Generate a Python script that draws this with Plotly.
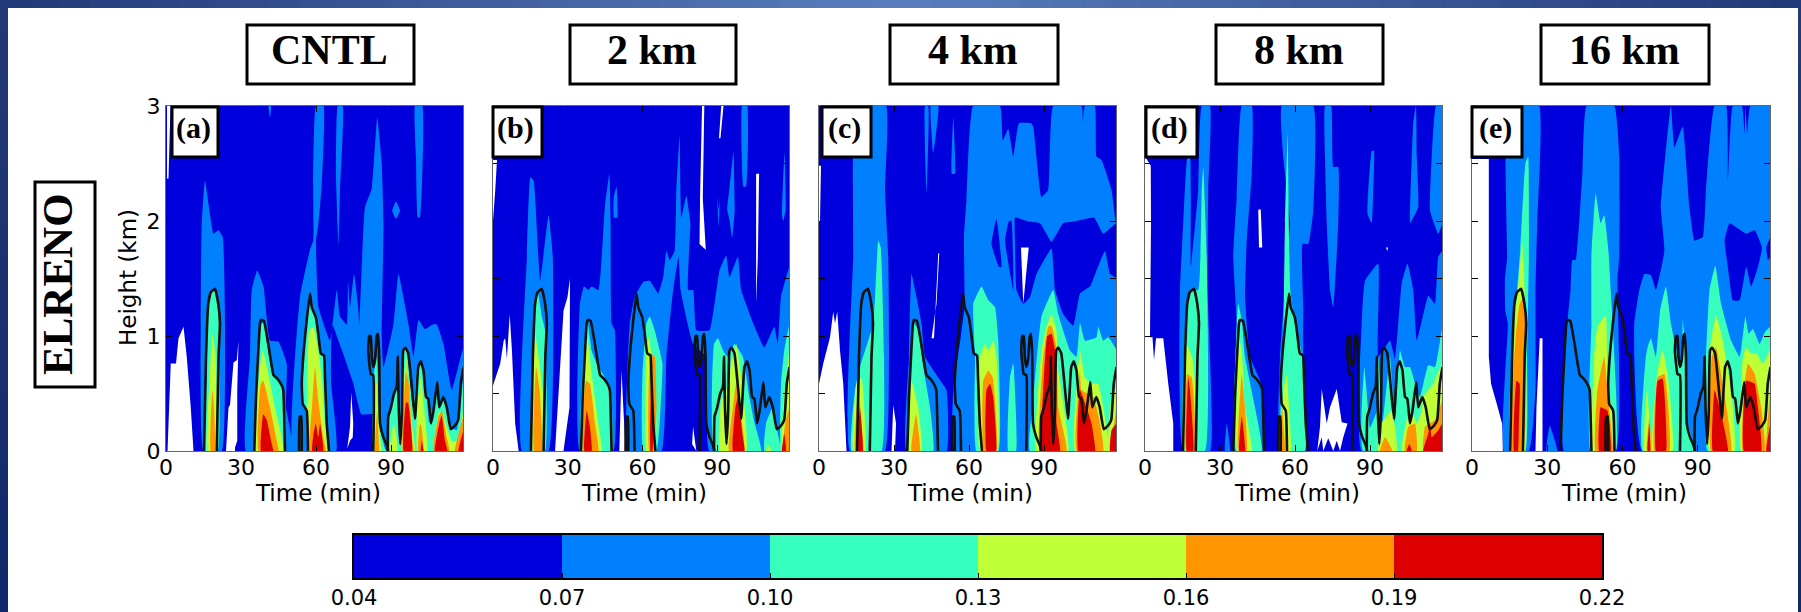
import plotly.graph_objects as go

W, H = 1801, 612
PANELS = ["a", "b", "c", "d", "e"]
TITLES = ["CNTL", "2 km", "4 km", "8 km", "16 km"]
ROW_LABEL = "ELRENO"
LEVELS = [0.04, 0.07, 0.10, 0.13, 0.16, 0.19, 0.22]
COLORS = ["#0000DC", "#0080FF", "#36FFBE", "#BEFF36", "#FF9500", "#DC0000"]
X_TICKS = [0, 30, 60, 90]

# Black contour, the same in all panels: (time min, height km)
CNTL_CONTOUR = [
    [(15.2,0),(16,.82),(16.9,1.28),(17.9,1.38),(19.6,1.41),(20.9,1.28),(21.6,1.11),(21,.82),(20.3,0)],
    [(35.3,0),(36,.47),(37.6,1.11),(38,1.14),(39.2,1.13),(40.9,.93),(43,.66),(44.5,.63),(46.3,.57),(46.9,.53),(47.6,0)],
    [(53.2,0),(53.5,.3),(54.1,.3),(54.3,0)],
    [(56.8,0),(56.3,.35),(54.7,.41),(54.3,.585),(55.2,.9),(56.3,1.14),(57.6,1.37),(58.3,1.25),(59.9,1.165),(60.9,1.02),(61.9,.85),(63.2,.83),(63.6,.64),(64.3,.24),(65.2,0)],
    [(82.9,0),(82.9,.66),(81.9,.67),(80.9,.875),(81.3,1.0),(81.9,1.0),(82.3,.82),(82.9,.73),(83.6,.79),(84.3,1.0),(84.8,1.02),(85.3,.82),(85.6,.24),(86.9,.12),(88.3,.05),(88.9,0)],
    [(88.7,0),(88.9,.3),(89.9,.37),(91.2,.5),(92.3,.56),(92.7,.82),(93.1,.38),(93.7,.06),(94.4,.35),(94.9,.875),(95.7,.9),(96.9,.85),(98.3,.56),(99.6,.28),(100.9,.73),(101.9,.78),(103,.7),(104,.47),(104.9,.455),(106,.24),(107,.35),(108.5,.6),(109.3,.38),(110.9,.47),(112.3,.38),(113.9,.19),(115.6,.22),(116.9,.27),(117.9,.585),(119,.73)],
]

# Panel (a)
A_WHITE = [
    [(.6,0),(1.2,.4),(1.9,.76),(4,.76),(5,.98),(7,1.08),(8.3,.82),(9.9,.38),(11,0)],
    [(.4,3),(1.8,3),(1,2.37),(.4,2.37)],
    [(24,0),(25,.38),(25.6,.4),(27,.77),(28.3,.79),(29,.96),(28.5,.53),(28.5,.09),(27.6,.03),(27.6,0)],
    [(72.5,.02),(73.6,.21),(74.1,.51),(74.9,.24),(74.7,.12),(73.6,.09)],
]
A_LIGHT = [
    [(15,0),(13.9,1.1),(14.3,1.98),(15.6,2.35),(19,1.89),(21,1.92),(22.7,1.86),(23.6,1.1),(22.3,0)],
    [(32,0),(33.6,.82),(34.3,1.4),(36.5,1.57),(39,1.43),(41.6,.96),(45,.95),(48.3,.76),(48,.38),(50.7,0)],
    [(50.9,0),(53.6,1.34),(57.6,1.75),(58.9,1.83),(58.9,2.32),(60,3),(63,3),(62.3,2.32),(61,1.98),(60,1.83),(61,1.25),(65.6,.96),(68.3,1.4),(69.6,1.17),(72.3,1.1),(72.8,1.48),(73.6,1.25),(75.2,1.54),(76.9,1.25),(77.3,1.1),(79.6,2.12),(82.3,2.28),(84.5,2.9),(86.3,2.5),(87,1.98),(86.3,1),(87,.73),(91,1.1),(93,1.54),(97,1.1),(99,.82),(101,1.14),(103.6,1.06),(106.7,1.1),(108.3,1.1),(111,.93),(114.3,.53),(119,.9),(119,0),(85.6,0),(83.6,.32),(78.2,.32),(74.9,.59),(70,.9),(66.5,1.1),(66,.6),(68,0)],
    [(41,3),(42,3),(41.6,2.9)],
    [(68.7,3),(70.7,3),(69.6,2.27),(69,1.8),(68,2.41)],
    [(99.6,3),(102.5,3),(101.6,2.03),(100.7,2.03),(100,2.56)],
    [(92,2.17),(93.6,2.09),(92,2.02),(90.5,2.09)],
]
A_CYAN = [
    [(15.6,0),(16.3,.67),(16.9,1.25),(18,1.38),(19.6,1.4),(20.9,1.28),(21.3,.82),(20.7,0)],
    [(35.6,0),(36.3,.53),(37.9,1.1),(39.2,1.12),(40.5,.93),(42.7,.66),(44.9,.63),(46.9,.53),(47.6,0)],
    [(56.8,0),(56.3,.35),(54.9,.41),(54.7,.585),(55.3,.875),(56.3,1.14),(57.6,1.32),(58.9,1.21),(60.3,1.14),(61.2,1.02),(62,.85),(63.2,.83),(63.6,.64),(64.3,.24),(65,0)],
    [(83,0),(83.2,.67),(84.3,.82),(84.7,.67),(85.3,.24),(87.6,.02),(88.3,0)],
    [(89,0),(89.6,.35),(91,.47),(92.3,.56),(93,.38),(93,.06),(93.9,.38),(94.9,.875),(96.3,.89),(97.3,.67),(99,.35),(100.3,.7),(101.6,.77),(103.2,.64),(104.3,.47),(105.3,.24),(107,.38),(108.3,.585),(109.6,.4),(110.9,.47),(112.3,.38),(113.6,.21),(116.3,.18),(117.6,.35),(119,.64),(119,0)],
]
A_YELLOW = [
    [(16.5,0),(17.6,.67),(18.5,1.02),(19.6,.875),(20.3,.53),(20,0)],
    [(36.3,0),(37.3,.67),(38.7,.875),(40.9,.67),(43.6,.38),(46.3,.12),(46.9,0)],
    [(56.9,0),(56.5,.53),(57.3,1.05),(59,1.08),(60.9,.875),(62.3,.64),(63.6,.24),(64.7,0)],
    [(83.3,0),(83.6,.53),(84.3,.61),(84.8,.38),(85.9,.06),(86.3,0)],
    [(89.6,0),(91,.24),(92,.15),(92.5,0)],
    [(94.6,0),(95.4,.67),(96,.82),(97,.585),(98.3,.25),(99.5,0)],
    [(100.5,0),(100.5,.38),(101.9,.64),(103.2,.38),(104.5,0)],
    [(107,0),(107,.06),(109.3,.35),(110.9,.32),(112.3,.21),(114.3,.09),(117,.09),(119,.38),(119,0)],
]
A_ORANGE = [
    [(17.9,0),(18.3,.47),(18.7,.53),(19.2,.38),(19.5,0)],
    [(37,0),(37.9,.585),(38.9,.61),(41.6,.38),(44,.12),(45,0)],
    [(57.6,0),(58.4,.38),(59.6,.73),(60.9,.44),(62.9,.12),(63.9,0)],
    [(83.7,0),(84.5,.35),(85.2,.06),(85.3,0)],
    [(94.8,0),(96,.7),(97,.6),(98.5,.1),(99,0)],
    [(100.9,0),(101.6,.24),(102.2,.21),(103,0)],
    [(107,0),(109,.3),(110.3,.35),(112.3,.12),(113.3,0)],
    [(115.6,0),(119,.3),(119,0)],
]
A_RED = [
    [(38,0),(38.9,.32),(40.3,.27),(42.3,.06),(42.9,0)],
    [(58.5,0),(59,.15),(59.9,.24),(60.9,.12),(61.6,.24),(62.9,0)],
    [(95,0),(96,.42),(96.8,.42),(98.4,0)],
    [(101.9,0),(102.3,.09),(103,0)],
    [(107.6,0),(109.3,.24),(110.3,.31),(111.6,.09),(112.5,0)],
    [(117,0),(119,.18),(119,0)],
]

# Panel (b)
B_WHITE = [
    [(0,.57),(2.9,.76),(4.3,.96),(4.9,.98),(5.6,.8),(6.7,1.19),(7.6,.875),(8.9,.24),(10.3,0),(0,0)],
    [(0,2.53),(1.6,2.53),(.9,2.27),(.3,2),(0,2)],
    [(24.9,0),(26.3,.53),(28.3,1.22),(29.9,1.34),(30.9,1.5),(30.7,.38),(28.3,0)],
    [(50.7,0),(51.6,.7),(52.3,.38),(53.2,0)],
    [(83.9,3),(84.8,3),(84.2,2.2),(85.4,1.75),(82.9,1.8),(83.1,2.2)],
    [(91.6,3),(92.5,3),(91.3,2.72),(90.7,2.72)],
    [(105.6,2.41),(106.8,2.41),(106.3,1.69),(105.6,1.28)],
    [(80.3,.21),(81.6,0),(79.9,.06)],
]
B_LIGHT = [
    [(11.6,0),(13.6,1.69),(15,2.38),(16.3,2.35),(18.9,1.48),(22.3,2.05),(24,1.69),(22.3,0)],
    [(34.9,0),(34.9,1.28),(36.5,1.43),(38.3,1.4),(39.6,1.43),(42.3,1.4),(44.9,2.12),(46.7,2.41),(47.2,1.98),(47.6,1.11),(48.9,1.05),(49.3,.67),(48.3,0)],
    [(48.5,2.21),(49.6,2.3),(49.9,2.03),(48.5,2.03)],
    [(54.3,0),(54.9,1.11),(56.9,1.34),(60.3,1.47),(62.9,1.48),(66.3,1.37),(68.3,1.51),(69.6,1.74),(70.9,1.66),(72.9,1.74),(73.6,2.27),(74.9,2.74),(75.6,2.03),(77.6,2.22),(79.2,1.98),(78.3,1.4),(80.3,1.4),(81.6,1.05),(86.9,1.05),(90.9,1.57),(93.6,1.7),(94.9,1.51),(98.3,1.69),(99.6,1.4),(105,1.08),(108.9,.9),(112.9,1.08),(114.3,.93),(115.6,1.34),(119,1.6),(119,0),(86.9,0),(85.6,.82),(80.3,.93),(75.3,1.4),(74.5,1.69),(72.3,1.4),(69.6,.82),(67.6,0)],
    [(100,3),(102,3),(101.6,2.3),(100.5,2.3)],
    [(90,2.2),(90.6,2.1),(91,2.2),(90.6,1.95)],
    [(94,2.1),(95,2.3),(96.5,2.6),(97,2.1),(96,1.85),(95,2)],
    [(116,2.05),(117,2.6),(117.5,2.1),(116.5,2.0)],
]
B_CYAN = [
    [(15.6,0),(16.3,.82),(16.9,1.25),(18,1.38),(19.6,1.17),(20.9,1.05),(20.9,0)],
    [(35.6,0),(36.3,.82),(37.9,1.14),(39.6,.875),(41.6,.76),(44.9,.64),(47.2,.53),(47.6,0)],
    [(60.3,0),(60,.67),(61.6,1.11),(62.9,1.17),(64.9,1.05),(68,.76),(66.9,.24),(65.6,0)],
    [(88.9,0),(88.7,.93),(90.3,.98),(92.3,.875),(94.3,.82),(96.9,.93),(100.3,.82),(102.9,.47),(105,.24),(107.6,0)],
    [(108.9,0),(109.6,.24),(112.3,.38),(114.3,.15),(115.6,0)],
    [(115.6,0),(115.6,.585),(116.9,.875),(119,1.1),(119,0)],
]
B_YELLOW = [
    [(16,0),(16.9,1.02),(18.3,.82),(20,.53),(20.3,0)],
    [(35.9,0),(36.9,.67),(37.9,.99),(39.6,.67),(42.3,.24),(43.6,0)],
    [(61.6,0),(61.6,.875),(62.5,.99),(64.9,.64),(65.6,.24),(64.9,0)],
    [(91,0),(91.6,.44),(93.6,.53),(95.6,.76),(97.6,.93),(100.3,.53),(101.6,0)],
    [(109.6,0),(110.3,.06),(111.6,0)],
    [(116,0),(116.5,.38),(119,.875),(119,0)],
]
B_ORANGE = [
    [(16.5,0),(17.3,.73),(18.7,.53),(19.6,0)],
    [(36.3,0),(37.3,.61),(38.9,.585),(40.9,.24),(42.3,0)],
    [(62.7,0),(63.2,.85),(64.9,.82),(65.6,.38),(64.5,0)],
    [(94.7,0),(96.3,.38),(97.6,.585),(99.6,.3),(100.9,0)],
    [(116.3,0),(117.3,.24),(119,.38),(119,0)],
]
B_RED = [
    [(36.7,0),(37.6,.35),(38.9,.21),(39.6,0)],
    [(63.2,0),(63.6,.67),(64.3,.24),(64,0)],
    [(96.3,0),(97.3,.38),(98.3,.47),(100.3,.12),(100.9,0)],
    [(116,0),(116.9,.15),(117.6,0)],
]

# Panel (c)
C_WHITE = [
    [(0,.585),(1.7,.76),(4.4,.99),(5.7,1.21),(6.4,1.11),(7.3,1.21),(8.4,.875),(9.7,.585),(11,0),(0,0)],
    [(0,2.48),(.8,2.48),(.4,2.0),(0,2.0)],
    [(29,0),(29.7,.4),(30.8,.24),(30.4,0)],
    [(45,.98),(46,.98),(47.7,1.72),(48.1,1.72),(47,1.28)],
    [(80.8,1.77),(83.9,1.77),(81.7,1.28)],
]
C_LIGHT = [
    [(12.4,0),(13.7,1.69),(15,3),(26.8,3),(26.4,2.27),(27.7,1.69),(28,.82),(26.4,0)],
    [(35,0),(36,.82),(37,1.54),(39,1.34),(41,1.11),(42.4,.82),(47.7,.64),(51,.53),(51,0)],
    [(42.4,3),(43,2.24),(43.7,3)],
    [(44.7,3),(45.7,2.59),(47.7,3)],
    [(53.7,2.9),(53.1,2.41),(54.4,2.41)],
    [(54.4,0),(53.7,.53),(56.7,.99),(58.2,1.25),(58,1.86),(59,2.18),(61.7,3),(72.4,3),(73.5,2.7),(75.7,2.8),(77.7,2.56),(80,2.85),(84.8,2.85),(85.7,2.82),(89,2.21),(91.7,2.27),(93.7,3),(105,3),(103.8,2.12),(106.4,3),(110.3,3),(111,2.56),(113,2.53),(117,2.27),(118.8,1.98),(119,1.98),(119,0)],
]
C_DARK = [
    [(69,1.8),(71,2.02),(73,1.6),(72,1.6)],
    [(74.4,1.83),(76,2),(77,2),(77.7,1.4),(76,1.6)],
    [(78.4,2.03),(83,2),(88.4,1.98),(93,1.82),(97.7,1.98),(103,2),(110,2.03),(113.7,1.89),(119,1.98),(119,1.51),(116.4,1.54),(114.4,1.74),(111,1.57),(108.4,1.43),(104.4,1.37),(101.7,1.09),(97.7,1.19),(94.4,1.4),(93,1.76),(87,1.54),(84.4,1.34),(81.7,1.28),(79,1.4),(78.4,1.83)],
]
C_CYAN = [
    [(13,0),(14.4,.53),(16.4,.73),(21.7,1.11),(23.7,1.83),(24.7,1.77),(26,.82),(25,0)],
    [(35.7,0),(36.4,.73),(38,1.11),(39.7,1.05),(41.7,.73),(44.4,.38),(45.7,0)],
    [(63,0),(62.4,.82),(61.7,1.28),(65,1.43),(67.7,1.31),(70.4,1.25),(71.7,.96),(71.7,0)],
    [(75.7,0),(76.4,.64),(77.7,.76),(78.8,0)],
    [(84.4,0),(85.7,.44),(89,1.17),(93.7,1.4),(95.7,1.19),(100.4,.875),(103,.82),(104.4,1.11),(106.4,.96),(111,.99),(111.7,1.08),(113.7,.96),(115.7,.99),(119,.875),(119,0)],
]
C_YELLOW = [
    [(13.7,0),(15,.585),(17,.64),(18.4,0)],
    [(36,0),(37,.61),(39.7,.38),(41,0)],
    [(64.4,0),(64.4,.82),(66.4,.93),(67.7,.875),(69.7,.96),(71,.82),(71.7,.53),(71.4,0)],
    [(87,0),(89,.875),(91,1.08),(93,1.19),(95,1.05),(95.7,.7),(99.7,0)],
    [(102.4,0),(104.4,.875),(106.4,.64),(109,.585),(111.7,.585),(113.7,.38),(115.7,0)],
    [(115.7,0),(117,.47),(119,.56),(119,0)],
]
C_ORANGE = [
    [(14.4,0),(15.7,.53),(17,.21),(17.7,0)],
    [(37,0),(38.8,.32),(40.4,0)],
    [(66,0),(65.7,.61),(67.7,.7),(69.5,.64),(71,0)],
    [(88.4,0),(89.7,.82),(91.7,1.08),(93,1.09),(95,.9),(95.7,.38),(99,0)],
    [(103,0),(104.4,.7),(105,.53),(109.7,.47),(112.4,.24),(113.7,0)],
    [(117,0),(119,.38),(119,0)],
]
C_RED = [
    [(15.5,0),(16.4,.38),(17.5,0)],
    [(67,0),(67,.53),(68.4,.585),(69.7,.47),(70.8,0)],
    [(89,0),(89.7,.53),(91.3,1.0),(93,1.02),(94.8,.82),(95,.24),(96.4,0)],
    [(103.7,0),(104.4,.53),(107,.38),(109,.24),(110.4,0)],
    [(116.4,0),(117,.18),(119,.24),(119,0)],
]

# Panel (d)
D_WHITE = [
    [(0,2.56),(2.3,2.48),(2.4,1.98),(2,.99),(3,.99),(3.6,.79),(4.4,.98),(7.3,.98),(9.3,.585),(11.3,.24),(11.3,0),(0,0)],
    [(45.3,2.1),(46.3,2.1),(46.9,1.77),(45.6,1.77)],
    [(68.9,0),(70,.21),(70.7,.54),(72.7,.24),(74,.38),(76.7,.54),(78.7,.25),(81,.24),(79.3,.12),(78,0),(76.7,.09),(75.3,0),(73.3,.11),(71.3,0),(70.7,.12)],
    [(96.4,1.77),(97.2,1.77),(96.9,1.74)],
]
D_LIGHT = [
    [(15.3,0),(14,1.4),(15.3,1.98),(17,2.56),(18,2.56),(18.3,1.6),(21.3,2.27),(22.7,3),(26,3),(25.3,2.27),(25,1.4),(26,0)],
    [(32,0),(32.7,.24),(34,0)],
    [(36,0),(36.7,1.11),(35.3,1.69),(36.7,2.21),(38.7,3),(42.7,3),(42.7,2.41),(40.7,1.83),(40,1.34),(42,.82),(46,.61),(47.6,0)],
    [(54,0),(54,.82),(56,1.4),(58,1.98),(55.3,2.56),(54.7,3),(67.3,3),(67.3,2.09),(65.3,1.8),(63,1.8),(63.3,1.25),(63.3,.875),(64,0)],
    [(72,3),(74.4,3),(75.3,2.47),(77.3,2.47),(77.3,1.98),(75.3,1.25),(74,1.4),(72.7,1.98),(72,2.56)],
    [(90.7,2.61),(91.6,2.61),(91.3,2.27),(90.7,1.98),(89,2.06)],
    [(106,2.06),(107.3,2.85),(108.4,3),(108.7,2.56),(109.3,2.12),(106,1.98)],
    [(116.4,3),(119,3),(119,1.98),(117.3,1.89),(114,2.09),(114.7,2.56)],
    [(86.7,0),(86.7,1.11),(88,1.48),(93.3,1.63),(93.3,.82),(98,.96),(100,.8),(102.7,1.46),(105,1.63),(107.3,1.4),(108.7,.96),(112,1.25),(113.3,1.35),(116,1.28),(117.3,1.69),(119,1.74),(119,0)],
]
D_CYAN = [
    [(15.7,0),(16.7,1.28),(18.7,1.4),(21.3,1.4),(22.7,2.27),(23.3,2.47),(24.7,1.69),(24,0)],
    [(36.4,0),(36.7,1.11),(37.3,1.28),(38.7,1.14),(40,.82),(44,.38),(46.7,0)],
    [(54.7,0),(55.3,.96),(56,1.98),(57.1,2.76),(58.1,1.4),(60,1.11),(62.7,.85),(64,0)],
    [(87.3,0),(87.7,.73),(88.4,.585),(90,.2),(92.7,.35),(93.3,.82),(95,.24),(98,.82),(100,.24),(102,.875),(104,.73),(106,.73),(108,.585),(110,.47),(113.3,.745),(116,.73),(119,1.08),(119,0)],
]
D_YELLOW = [
    [(16,0),(16.7,.93),(19,.8),(20.3,.53),(20,0)],
    [(36.9,0),(37.7,.96),(38.7,.875),(40,.38),(42.7,0)],
    [(55,0),(55.3,.53),(56.7,.67),(57.7,.35),(58.3,0)],
    [(93.3,0),(94.7,.24),(98.7,.35),(100.7,0)],
    [(102.7,0),(104.7,.27),(106.7,.35),(108.7,.24),(110.7,.35),(111.3,.47),(115.3,.585),(119,.76),(119,0)],
]
D_ORANGE = [
    [(16.4,0),(16.9,.67),(18.7,.64),(20,0)],
    [(37.3,0),(38.7,.67),(40.7,0)],
    [(54,0),(55,.38),(55.3,.24),(56,0)],
    [(94,0),(96,.12),(99,0)],
    [(104,0),(105.3,.21),(108,.24),(108.7,0)],
    [(111.3,0),(112,.21),(116,.27),(119,.44),(119,0)],
]
D_RED = [
    [(16.7,0),(17.3,.64),(18,.53),(19.3,0)],
    [(37.7,0),(38.7,.3),(40,0)],
    [(104.7,0),(105.7,.06),(106.7,0)],
    [(111.3,0),(113.3,.15),(114,.24),(114.7,.12),(117.3,.18),(119,.24),(119,0)],
]

# Panel (e)
E_WHITE = [
    [(0,2.54),(6.7,2.54),(6.7,.82),(7.6,.585),(10,.4),(12,.24),(12.3,0),(0,0)],
    [(25.3,0),(25.7,.38),(27,.98),(28.1,.98),(28.1,0)],
]
E_LIGHT = [
    [(12.7,0),(14.3,1.11),(13.3,1.22),(13.1,1.48),(14,1.69),(14.4,3),(26.7,3),(26,1.98),(25.3,1.4),(25.3,.53),(22.7,0)],
    [(29.7,0),(31,.22),(34,0)],
    [(36.7,0),(36.7,.82),(39.3,1.4),(40,1.66),(41.3,1.66),(44,2.41),(45.7,3),(56.7,3),(58.7,2.56),(58.7,1.69),(58,1.51),(57.3,0)],
    [(68,0),(64.7,.82),(64.7,1.11),(66.7,1.4),(68.7,1.54),(71.3,1.53),(73.3,1.4),(76.7,1.74),(75.3,2.12),(79.3,3),(80.7,2.64),(84,2.82),(86.7,2.12),(88.7,1.83),(92,1.86),(93.3,2.27),(96.7,3),(101.3,3),(102,2.32),(104,3),(107.6,3),(108.7,2.76),(109,3),(109.7,2.76),(111,3),(119,3),(119,0)],
]
E_DARK = [
    [(100.7,1.83),(102.7,1.98),(109.3,1.89),(112.7,1.92),(115.6,1.77),(114,1.6),(111.3,1.43),(109.3,1.6),(106.7,1.31),(104,1.31),(102,1.6)],
    [(117.3,1.77),(119,1.86),(119,1.69),(118,1.66)],
]
E_CYAN = [
    [(15.3,0),(16.7,1.17),(18,1.4),(19.3,1.77),(21.3,2.5),(22.4,2.56),(22.7,1.69),(22,.82),(21.3,0)],
    [(47.3,0),(47.6,1.11),(47.6,1.69),(49.3,2.24),(51.3,1.98),(52.7,2.05),(54.4,1.74),(55.3,1.4),(57.3,0)],
    [(68,0),(69.3,.82),(70,.9),(71.3,.98),(73.3,.82),(75,1.22),(77.3,1.43),(79.3,1.11),(82,.82),(83.6,.73),(84,1.14),(85,.93),(85.3,.67),(86,.24),(88.7,0)],
    [(94,0),(93.3,.82),(94.7,1.4),(97,1.61),(99.3,1.28),(103.3,.96),(106.7,.82),(109,1.17),(110.3,1.02),(112,1.06),(114.7,.93),(116.7,1.03),(119,1.08),(119,0)],
]
E_YELLOW = [
    [(15.7,0),(17,1.17),(18.3,1.4),(20,1.8),(21,1.4),(21.6,.82),(21,0)],
    [(48.3,0),(48.7,.82),(50,1.08),(53.3,1.18),(54,.67),(56.7,0)],
    [(68.7,0),(69.7,.53),(71.3,0)],
    [(72,0),(74,.7),(76,.875),(78,.67),(80,0)],
    [(94.7,0),(94.7,.875),(97.3,1.18),(100,.96),(103.3,.53),(104.7,0)],
    [(107.3,0),(108,.82),(109.3,.9),(111.3,.85),(113.3,.85),(116,.76),(118.7,.875),(119,.875),(119,0)],
]
E_ORANGE = [
    [(16,0),(17.3,.96),(19,1.28),(20.7,1.34),(21.3,.24),(20.4,0)],
    [(49.3,0),(50,.53),(52.7,.82),(54,.53),(55.3,.24),(56,0)],
    [(69.7,0),(70.7,.3),(71.3,0)],
    [(72.7,0),(74,.64),(76.7,.67),(78.7,0)],
    [(95.3,0),(95.6,.82),(97.3,.9),(99.3,.67),(103.3,0)],
    [(108,0),(108.7,.585),(110,.76),(112.7,.67),(115.3,.38),(116.7,0)],
    [(117.3,0),(119,.53),(119,0)],
]
E_RED = [
    [(16.7,0),(17.7,.61),(19,.585),(18.7,.24),(18.3,0)],
    [(50.7,0),(51.3,.38),(54,.35),(55.3,0)],
    [(70,0),(70.7,.24),(71,0)],
    [(73.3,0),(74,.61),(76,.63),(77.3,0)],
    [(96,0),(96.7,.53),(98.7,.38),(102,0)],
    [(108.4,0),(109.3,.61),(112.7,.585),(114,.38),(115.3,0)],
    [(117.3,0),(119,.24),(119,0)],
]

LAYERS = {
    "a": [A_LIGHT, A_CYAN, A_YELLOW, A_ORANGE, A_RED, A_WHITE],
    "b": [B_LIGHT, B_CYAN, B_YELLOW, B_ORANGE, B_RED, B_WHITE],
    "c": [C_LIGHT, C_DARK, C_CYAN, C_YELLOW, C_ORANGE, C_RED, C_WHITE],
    "d": [D_LIGHT, D_CYAN, D_YELLOW, D_ORANGE, D_RED, D_WHITE],
    "e": [E_LIGHT, E_DARK, E_CYAN, E_YELLOW, E_ORANGE, E_RED, E_WHITE],
}


def px(x):
    return x / W


def py(y):
    return 1 - y / H


def layer_colors(panel):
    cols = [COLORS[1]]
    if panel in ("c", "e"):
        cols.append(COLORS[0])
    return cols + COLORS[2:] + ["#FFFFFF"]


def poly_xy(polys):
    xs, ys = [], []
    for poly in polys:
        xs += [p[0] for p in poly] + [poly[0][0], None]
        ys += [p[1] for p in poly] + [poly[0][1], None]
    return xs, ys


def line_xy(lines):
    xs, ys = [], []
    for line in lines:
        xs += [p[0] for p in line] + [None]
        ys += [p[1] for p in line] + [None]
    return xs, ys


PANEL_X = [(166, 463), (493, 789), (819, 1116), (1145, 1442), (1472, 1770)]
PANEL_Y = (106, 451)
LABEL_BOX = [(172, 218), (493, 542), (822, 871), (1146, 1197), (1472, 1522)]
TITLE_BOX = [(247, 414), (570, 736), (890, 1058), (1216, 1383), (1541, 1709)]
CBAR_X = (354, 1602)
CBAR_Y = (535, 578)

fig = go.Figure()
shapes, annotations = [], []

# slide frame: navy edges; the top bar is lightest in the middle
N = 60
for i in range(N):
    f = 1 - abs(2 * (i + .5) / N - 1)
    c = (int(35 + f * 55), int(57 + f * 70), int(120 + f * 70))
    x0, x1 = round(W * i / N), round(W * (i + 1) / N) + 1
    shapes.append(dict(type="rect", xref="paper", yref="paper", layer="below",
                       x0=px(x0), x1=px(min(x1, W)), y0=py(8), y1=py(0),
                       line_width=0, fillcolor=f"rgb{c}"))
for i in range(30):
    f = i / 29
    c = (int(36 - f * 20), int(58 - f * 17), int(120 - f * 14))
    y0, y1 = round(8 + (H - 8) * i / 30), round(8 + (H - 8) * (i + 1) / 30) + 1
    for a, b in ((0, 8), (1798, W)):
        shapes.append(dict(type="rect", xref="paper", yref="paper", layer="below",
                           x0=px(a), x1=px(b), y0=py(min(y1, H)), y1=py(y0),
                           line_width=0, fillcolor=f"rgb{c}"))

axis_common = dict(showgrid=False, zeroline=False, automargin=False, ticks="inside", ticklen=6, tickwidth=1.2,
                   tickcolor="#000000", linecolor="#666666", linewidth=1.2, mirror="ticks",
                   tickfont=dict(family="DejaVu Sans", size=22, color="#000000"))
layout_axes = {}
for i, panel in enumerate(PANELS):
    n = i + 1
    xa, ya = f"x{n}", f"y{n}"
    layout_axes[f"xaxis{n}"] = dict(axis_common, domain=[px(PANEL_X[i][0]), px(PANEL_X[i][1])],
                                    range=[0, 118.8], tickvals=X_TICKS, anchor=ya, ticklabelstandoff=-4)
    layout_axes[f"yaxis{n}"] = dict(axis_common, domain=[py(PANEL_Y[1]), py(PANEL_Y[0])],
                                    range=[0, 3], anchor=xa,
                                    tickvals=[0, 1, 2, 3] if i == 0 else [0, .5, 1, 1.5, 2, 2.5, 3],
                                    showticklabels=i == 0)
    for polys, col in zip(LAYERS[panel], layer_colors(panel)):
        xs, ys = poly_xy(polys)
        line = dict(width=0, color=col)
        if col != "#FFFFFF":
            line.update(shape="spline", smoothing=.35)
        fig.add_trace(go.Scatter(x=xs, y=ys, mode="lines", fill="toself", fillcolor=col, line=line,
                                 xaxis=xa, yaxis=ya, hoverinfo="skip", showlegend=False))
    xs, ys = line_xy(CNTL_CONTOUR)
    fig.add_trace(go.Scatter(x=xs, y=ys, mode="lines",
                             line=dict(color="#111111", width=2.6, shape="spline", smoothing=.35),
                             xaxis=xa, yaxis=ya, hoverinfo="skip", showlegend=False))
    # x axis title
    annotations.append(dict(xref="paper", yref="paper", x=px((PANEL_X[i][0] + PANEL_X[i][1]) / 2 + 3),
                            y=py(493), showarrow=False, text="Time (min)", xanchor="center", yanchor="middle",
                            font=dict(family="DejaVu Sans", size=23, color="#000000")))
    # panel letter box
    x0, x1 = LABEL_BOX[i]
    shapes.append(dict(type="rect", xref="paper", yref="paper", x0=px(x0), x1=px(x1),
                       y0=py(157), y1=py(107), fillcolor="#FFFFFF", layer="above",
                       line=dict(color="#000000", width=3)))
    annotations.append(dict(xref="paper", yref="paper", x=px((x0 + x1) / 2 - 2), y=py(128), showarrow=False,
                            text=f"<b>({panel})</b>", xanchor="center", yanchor="middle",
                            font=dict(family="Liberation Serif", size=30, color="#000000")))
    # column title box
    x0, x1 = TITLE_BOX[i]
    shapes.append(dict(type="rect", xref="paper", yref="paper", x0=px(x0), x1=px(x1),
                       y0=py(84), y1=py(25), fillcolor="#FFFFFF", layer="above",
                       line=dict(color="#000000", width=3)))
    annotations.append(dict(xref="paper", yref="paper", x=px((x0 + x1) / 2 - 1), y=py(50), showarrow=False,
                            text=f"<b>{TITLES[i]}</b>", xanchor="center", yanchor="middle",
                            font=dict(family="Liberation Serif", size=42, color="#000000")))

# row label
shapes.append(dict(type="rect", xref="paper", yref="paper", x0=px(35), x1=px(95), y0=py(387), y1=py(182),
                   fillcolor="#FFFFFF", layer="above", line=dict(color="#000000", width=3)))
annotations.append(dict(xref="paper", yref="paper", x=px(57), y=py(284), showarrow=False, textangle=-90,
                        text=f"<b>{ROW_LABEL}</b>", xanchor="center", yanchor="middle",
                        font=dict(family="Liberation Serif", size=43, color="#000000")))
annotations.append(dict(xref="paper", yref="paper", x=px(128), y=py(278), showarrow=False, textangle=-90,
                        text="Height (km)", xanchor="center", yanchor="middle",
                        font=dict(family="DejaVu Sans", size=23, color="#000000")))

# colour bar drawn from the level list
fig.add_trace(go.Bar(x=[(a + b) / 2 for a, b in zip(LEVELS[:-1], LEVELS[1:])],
                     y=[1] * len(COLORS), width=[b - a for a, b in zip(LEVELS[:-1], LEVELS[1:])],
                     marker=dict(color=COLORS, line_width=0), xaxis="x6", yaxis="y6",
                     hoverinfo="skip", showlegend=False))
layout_axes["xaxis6"] = dict(domain=[px(CBAR_X[0]), px(CBAR_X[1])], range=[LEVELS[0], LEVELS[-1]],
                             tickvals=LEVELS, ticktext=[f"{v:.2f}" for v in LEVELS], anchor="y6",
                             automargin=False, ticks="inside", ticklen=5, tickcolor="#000000",
                             showgrid=False, zeroline=False,
                             linecolor="#000000", linewidth=2, mirror=True,
                             tickfont=dict(family="DejaVu Sans", size=21, color="#000000"))
layout_axes["yaxis6"] = dict(domain=[py(CBAR_Y[1]), py(CBAR_Y[0])], range=[0, 1], anchor="x6",
                             automargin=False, showticklabels=False, ticks="", showgrid=False, zeroline=False,
                             linecolor="#000000", linewidth=2, mirror=True)

fig.update_layout(width=W, height=H, margin=dict(l=0, r=0, t=0, b=0, pad=0), autosize=False,
                  template="none", paper_bgcolor="#FFFFFF", plot_bgcolor=COLORS[0], showlegend=False,
                  shapes=shapes, annotations=annotations, **layout_axes)
fig.write_html("out.html", config={"displayModeBar": False},
               post_script="document.body.style.margin='0';document.documentElement.style.overflow='hidden';")
